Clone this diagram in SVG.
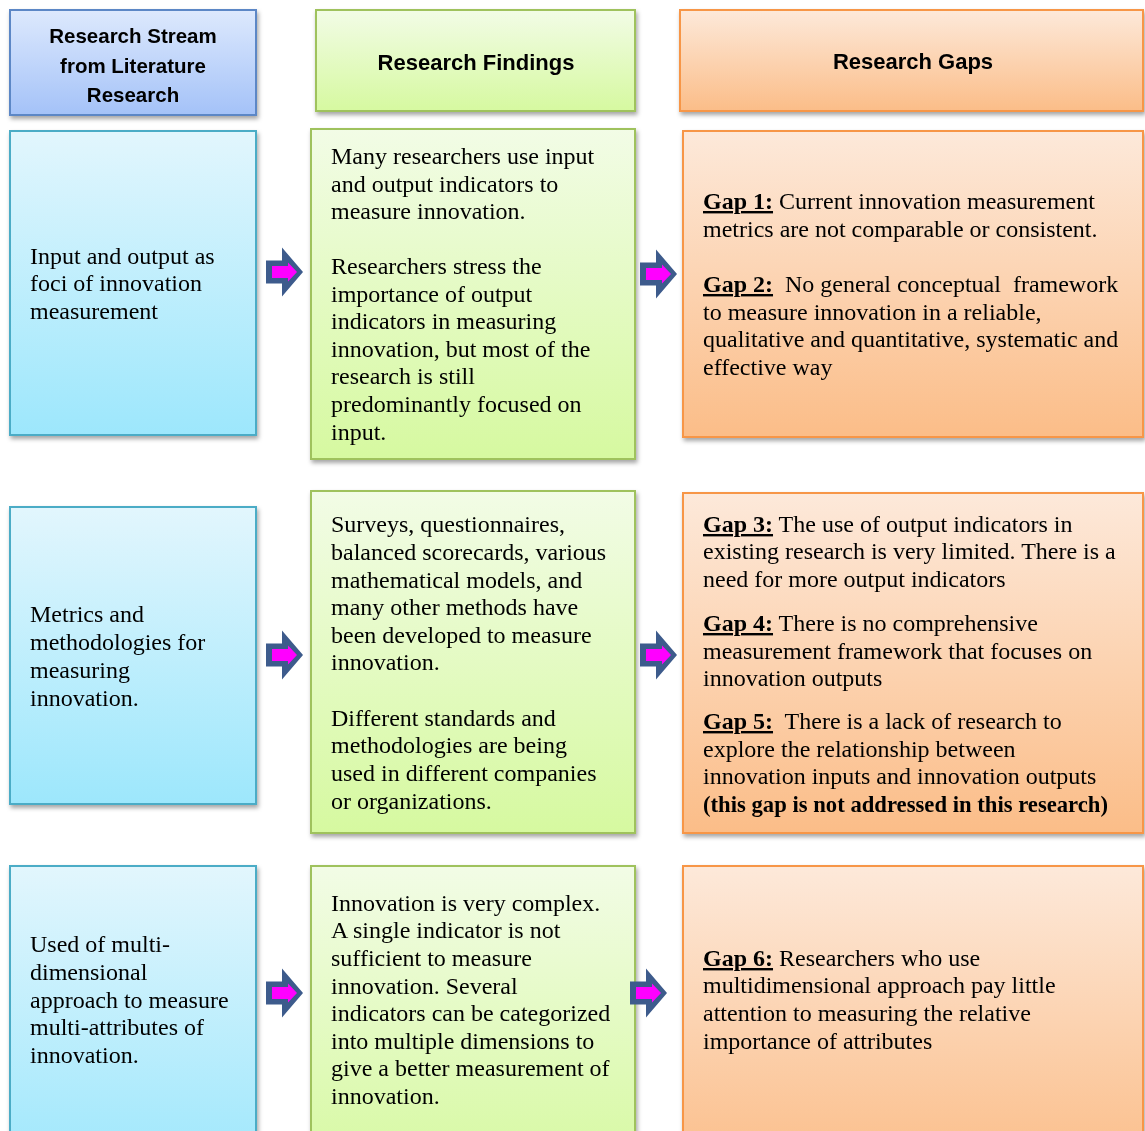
<svg xmlns="http://www.w3.org/2000/svg" width="1145" height="1131" viewBox="0 0 1145 1131">
<defs>
<linearGradient id="gHead1" x1="0" y1="0" x2="0" y2="1"><stop offset="0" stop-color="#dde9fd"/><stop offset="1" stop-color="#a4c2f8"/></linearGradient>
<linearGradient id="gBlue" x1="0" y1="0" x2="0" y2="1"><stop offset="0" stop-color="#e2f6fd"/><stop offset="1" stop-color="#9de7fc"/></linearGradient>
<linearGradient id="gGreen" x1="0" y1="0" x2="0" y2="1"><stop offset="0" stop-color="#f2fce6"/><stop offset="1" stop-color="#d6f9a0"/></linearGradient>
<linearGradient id="gOrange" x1="0" y1="0" x2="0" y2="1"><stop offset="0" stop-color="#fde9da"/><stop offset="1" stop-color="#fbbd88"/></linearGradient>
<filter id="sh" x="-10%" y="-10%" width="130%" height="130%"><feDropShadow dx="1.5" dy="3" stdDeviation="2" flood-color="#000" flood-opacity="0.35"/></filter>
<g id="arrow">
<path d="M0,-11.5 L16,-11.5 L16,-24.5 L37,0 L16,24.5 L16,11.5 L0,11.5 Z" fill="#3d5b8c"/>
<path d="M6,-6 L22,-6 L22,-9.5 L31,0 L22,9.5 L22,6 L6,6 Z" fill="#ff00ff"/>
</g>
</defs>
<style>
.hdr{font-family:"Liberation Sans",Arial,sans-serif;font-weight:bold;fill:#000;text-anchor:middle}
.t{font-family:"Liberation Serif","Times New Roman",serif;font-size:24px;fill:#000}
.g{font-weight:bold;text-decoration:underline}
.b{font-weight:bold}
.hb{fill:url(#gHead1);stroke:#5b87c6;stroke-width:2}
.bl{fill:url(#gBlue);stroke:#4bacc6;stroke-width:2}
.gr{fill:url(#gGreen);stroke:#9fc25d;stroke-width:2}
.or{fill:url(#gOrange);stroke:#f79646;stroke-width:2}
</style>

<g id="header-stream" filter="url(#sh)">
<rect class="hb" x="10" y="10" width="246" height="105"/>
<text class="hdr" font-size="20.5"><tspan x="133" y="43">Research Stream</tspan><tspan x="133" y="73">from Literature</tspan><tspan x="133" y="102">Research</tspan></text>
</g>
<g id="header-findings" filter="url(#sh)">
<rect class="gr" x="316" y="10" width="319" height="101"/>
<text class="hdr" font-size="22" x="476" y="70">Research Findings</text>
</g>
<g id="header-gaps" filter="url(#sh)">
<rect class="or" x="680" y="10" width="463" height="101"/>
<text class="hdr" font-size="22" x="913" y="69">Research Gaps</text>
</g>

<g id="stream-1" filter="url(#sh)">
<rect class="bl" x="10" y="131" width="246" height="304"/>
<text class="t"><tspan x="30" y="264">Input and output as</tspan><tspan x="30" y="291">foci of innovation</tspan><tspan x="30" y="319">measurement</tspan></text>
</g>
<g id="findings-1" filter="url(#sh)">
<rect class="gr" x="311" y="129" width="324" height="330"/>
<text class="t"><tspan x="331" y="164">Many researchers use input</tspan><tspan x="331" y="192">and output indicators to</tspan><tspan x="331" y="219">measure innovation.</tspan><tspan x="331" y="274">Researchers stress the</tspan><tspan x="331" y="302">importance of output</tspan><tspan x="331" y="329">indicators in measuring</tspan><tspan x="331" y="357">innovation, but most of the</tspan><tspan x="331" y="384">research is still</tspan><tspan x="331" y="412">predominantly focused on</tspan><tspan x="331" y="440">input.</tspan></text>
</g>
<g id="gaps-1" filter="url(#sh)">
<rect class="or" x="683" y="131" width="460" height="306"/>
<text class="t"><tspan x="703" y="209" class="g">Gap 1:</tspan><tspan> Current innovation measurement</tspan><tspan x="703" y="237">metrics are not comparable or consistent.</tspan><tspan x="703" y="292" class="g">Gap 2:</tspan><tspan xml:space="preserve">  No general conceptual  framework</tspan><tspan x="703" y="320">to measure innovation in a reliable,</tspan><tspan x="703" y="347">qualitative and quantitative, systematic and</tspan><tspan x="703" y="375">effective way</tspan></text>
</g>

<g id="stream-2" filter="url(#sh)">
<rect class="bl" x="10" y="507" width="246" height="297"/>
<text class="t"><tspan x="30" y="622">Metrics and</tspan><tspan x="30" y="650">methodologies for</tspan><tspan x="30" y="678">measuring</tspan><tspan x="30" y="706">innovation.</tspan></text>
</g>
<g id="findings-2" filter="url(#sh)">
<rect class="gr" x="311" y="491" width="324" height="342"/>
<text class="t"><tspan x="331" y="532">Surveys, questionnaires,</tspan><tspan x="331" y="560">balanced scorecards, various</tspan><tspan x="331" y="588">mathematical models, and</tspan><tspan x="331" y="615">many other methods have</tspan><tspan x="331" y="643">been developed to measure</tspan><tspan x="331" y="670">innovation.</tspan><tspan x="331" y="726">Different standards and</tspan><tspan x="331" y="753">methodologies are being</tspan><tspan x="331" y="781">used in different companies</tspan><tspan x="331" y="809">or organizations.</tspan></text>
</g>
<g id="gaps-2" filter="url(#sh)">
<rect class="or" x="683" y="493" width="460" height="340"/>
<text class="t"><tspan x="703" y="532" class="g">Gap 3:</tspan><tspan> The use of output indicators in</tspan><tspan x="703" y="559">existing research is very limited. There is a</tspan><tspan x="703" y="587">need for more output indicators</tspan><tspan x="703" y="631" class="g">Gap 4:</tspan><tspan> There is no comprehensive</tspan><tspan x="703" y="659">measurement framework that focuses on</tspan><tspan x="703" y="686">innovation outputs</tspan><tspan x="703" y="729" class="g">Gap 5:</tspan><tspan xml:space="preserve">  There is a lack of research to</tspan><tspan x="703" y="757">explore the relationship between</tspan><tspan x="703" y="784">innovation inputs and innovation outputs</tspan></text>
<text class="t b" x="703" y="812" textLength="405" lengthAdjust="spacingAndGlyphs">(this gap is not addressed in this research)</text>
</g>

<g id="stream-3" filter="url(#sh)">
<rect class="bl" x="10" y="866" width="246" height="310"/>
<text class="t"><tspan x="30" y="952">Used of multi-</tspan><tspan x="30" y="980">dimensional</tspan><tspan x="30" y="1008">approach to measure</tspan><tspan x="30" y="1035">multi-attributes of</tspan><tspan x="30" y="1063">innovation.</tspan></text>
</g>
<g id="findings-3" filter="url(#sh)">
<rect class="gr" x="311" y="866" width="324" height="310"/>
<text class="t"><tspan x="331" y="911">Innovation is very complex.</tspan><tspan x="331" y="938">A single indicator is not</tspan><tspan x="331" y="966">sufficient to measure</tspan><tspan x="331" y="994">innovation. Several</tspan><tspan x="331" y="1021">indicators can be categorized</tspan><tspan x="331" y="1049">into multiple dimensions to</tspan><tspan x="331" y="1076">give a better measurement of</tspan><tspan x="331" y="1104">innovation.</tspan></text>
</g>
<g id="gaps-3" filter="url(#sh)">
<rect class="or" x="683" y="866" width="460" height="310"/>
<text class="t"><tspan x="703" y="966" class="g">Gap 6:</tspan><tspan> Researchers who use</tspan><tspan x="703" y="993">multidimensional approach pay little</tspan><tspan x="703" y="1021">attention to measuring the relative</tspan><tspan x="703" y="1049">importance of attributes</tspan></text>
</g>

<g id="connectors">
<use href="#arrow" transform="translate(266,272)"/>
<use href="#arrow" transform="translate(640,274)"/>
<use href="#arrow" transform="translate(266,655)"/>
<use href="#arrow" transform="translate(640,655)"/>
<use href="#arrow" transform="translate(266,993)"/>
<use href="#arrow" transform="translate(630,993)"/>
</g>
</svg>
